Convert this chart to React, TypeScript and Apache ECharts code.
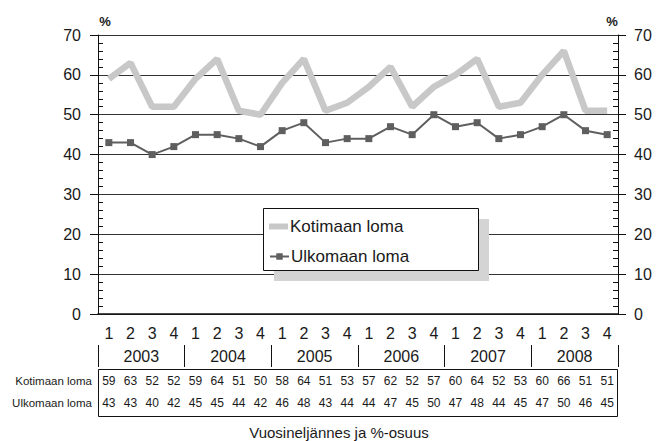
import React, { useEffect, useRef } from "react";
import * as echarts from "echarts";

const quarters = ["1","2","3","4","1","2","3","4","1","2","3","4","1","2","3","4","1","2","3","4","1","2","3","4"];
const years = ["2003","2004","2005","2006","2007","2008"];
const kotimaan = [59,63,52,52,59,64,51,50,58,64,51,53,57,62,52,57,60,64,52,53,60,66,51,51];
const ulkomaan = [43,43,40,42,45,45,44,42,46,48,43,44,44,47,45,50,47,48,44,45,47,50,46,45];
const seriesNames = ["Kotimaan loma","Ulkomaan loma"];
const xTitle = "Vuosineljännes ja %-osuus";

const FONT = "Liberation Sans";
const TXT = "#1a1a1a";
const LIGHT = "#c8c8c8";
const DARK = "#5f5f5f";

export default function App() {
  const ref = useRef<HTMLDivElement>(null);
  useEffect(() => {
    const chart = echarts.init(ref.current!, null, { renderer: "svg" });
    const yBase = {
      type: "value", min: 0, max: 70, interval: 10,
    };
    const legendText = { fontSize: 17, fontFamily: FONT, color: TXT, padding: [0, 0, 0, -3] };
    chart.setOption({
      animation: false,
      backgroundColor: "#ffffff",
      textStyle: { fontFamily: FONT, color: TXT },
      grid: [
        { left: 98, right: 44, top: 35, bottom: 127, containLabel: false },
        { left: 98, right: 44, top: 345, height: 22, containLabel: false },
      ],
      legend: [
        {
          data: [{ name: seriesNames[0], icon: "rect", itemStyle: { color: LIGHT } }],
          left: 264, top: 213, itemWidth: 19, itemHeight: 6, z: 20, padding: 5,
          textStyle: legendText,
        },
        {
          data: [seriesNames[1]],
          left: 264, top: 243, itemWidth: 19, itemHeight: 8, z: 20, padding: 5,
          textStyle: legendText,
        },
      ],
      xAxis: [
        {
          type: "category", data: quarters, position: "bottom", gridIndex: 0,
          axisLine: { show: true, lineStyle: { color: "#111", width: 1.5 } },
          axisTick: { show: false },
          axisLabel: { interval: 0, fontSize: 16, margin: 11, color: TXT, fontFamily: FONT },
          splitLine: { show: false },
        },
        {
          type: "category", data: years, position: "bottom", gridIndex: 1,
          axisLine: { show: false },
          axisTick: { show: true, inside: true, length: 22, lineStyle: { color: "#111", width: 1 } },
          axisLabel: { interval: 0, fontSize: 16, margin: -19, color: TXT, fontFamily: FONT },
          splitLine: { show: false },
        },
        {
          type: "category", data: kotimaan.map(String), position: "bottom", offset: 55, gridIndex: 0,
          axisLine: { show: false }, axisTick: { show: false },
          axisLabel: { interval: 0, fontSize: 12, margin: 6, color: TXT, fontFamily: FONT },
        },
        {
          type: "category", data: ulkomaan.map(String), position: "bottom", offset: 55, gridIndex: 0,
          axisLine: { show: false }, axisTick: { show: false },
          axisLabel: { interval: 0, fontSize: 12, margin: 28, color: TXT, fontFamily: FONT },
        },
      ],
      yAxis: [
        {
          ...yBase, position: "left", gridIndex: 0,
          axisLine: { show: true, lineStyle: { color: "#111" } },
          axisTick: { show: true, length: 8, lineStyle: { color: "#111" } },
          axisLabel: { fontSize: 16, margin: 17, color: TXT, fontFamily: FONT },
          splitLine: { show: true, lineStyle: { color: "#333", width: 1 } },
        },
        {
          ...yBase, position: "left", gridIndex: 0,
          axisLine: { show: false },
          axisTick: { show: false, inside: true },
          axisLabel: { show: false },
          splitLine: { show: false },
          minorTick: { show: true, splitNumber: 5, length: 5, lineStyle: { color: "#111" } },
        },
        {
          ...yBase, position: "right", gridIndex: 0,
          axisLine: { show: true, lineStyle: { color: "#111" } },
          axisTick: { show: true, length: 8, lineStyle: { color: "#111" } },
          axisLabel: { fontSize: 16, margin: 16, color: TXT, fontFamily: FONT },
          splitLine: { show: false },
        },
        {
          ...yBase, position: "right", gridIndex: 0,
          axisLine: { show: false },
          axisTick: { show: false, inside: true },
          axisLabel: { show: false },
          splitLine: { show: false },
          minorTick: { show: true, splitNumber: 5, length: 5, lineStyle: { color: "#111" } },
        },
        {
          type: "value", gridIndex: 1, show: false,
        },
      ],
      series: [
        {
          name: seriesNames[0], type: "line", data: kotimaan, xAxisIndex: 0, yAxisIndex: 0,
          showSymbol: false, symbol: "none",
          lineStyle: { color: LIGHT, width: 6.5 },
          itemStyle: { color: LIGHT },
          z: 3,
        },
        {
          name: seriesNames[1], type: "line", data: ulkomaan, xAxisIndex: 0, yAxisIndex: 0,
          symbol: "rect", symbolSize: 7, showSymbol: true,
          lineStyle: { color: DARK, width: 2 },
          itemStyle: { color: DARK },
          z: 4,
        },
      ],
      graphic: [
        { type: "rect", z: 10, shape: { x: 274, y: 219, width: 215, height: 62 }, style: { fill: "#d4d4d4" } },
        { type: "rect", z: 11, shape: { x: 263.5, y: 208.5, width: 215, height: 62 }, style: { fill: "#fff", stroke: "#111", lineWidth: 1 } },
        { type: "rect", z: 11, shape: { x: 98.5, y: 369.5, width: 519, height: 47 }, style: { fill: "none", stroke: "#111", lineWidth: 1 } },
        { type: "text", z: 11, x: 92, y: 381, style: { text: seriesNames[0], fontSize: 11.5, fontFamily: FONT, fill: TXT, align: "right", verticalAlign: "middle" } },
        { type: "text", z: 11, x: 92, y: 403, style: { text: seriesNames[1], fontSize: 11.5, fontFamily: FONT, fill: TXT, align: "right", verticalAlign: "middle" } },
        { type: "text", z: 11, x: 339, y: 432, style: { text: xTitle, fontSize: 15, fontFamily: FONT, fill: TXT, align: "center", verticalAlign: "middle" } },
        { type: "text", z: 11, x: 105, y: 21, style: { text: "%", fontSize: 13, fontWeight: "bold", fontFamily: FONT, fill: TXT, align: "center", verticalAlign: "middle" } },
        { type: "text", z: 11, x: 612, y: 21, style: { text: "%", fontSize: 13, fontWeight: "bold", fontFamily: FONT, fill: TXT, align: "center", verticalAlign: "middle" } },
      ],
    });
    return () => chart.dispose();
  }, []);
  return <div ref={ref} style={{ width: 662, height: 441, position: "absolute", left: 0, top: 0 }} />;
}
